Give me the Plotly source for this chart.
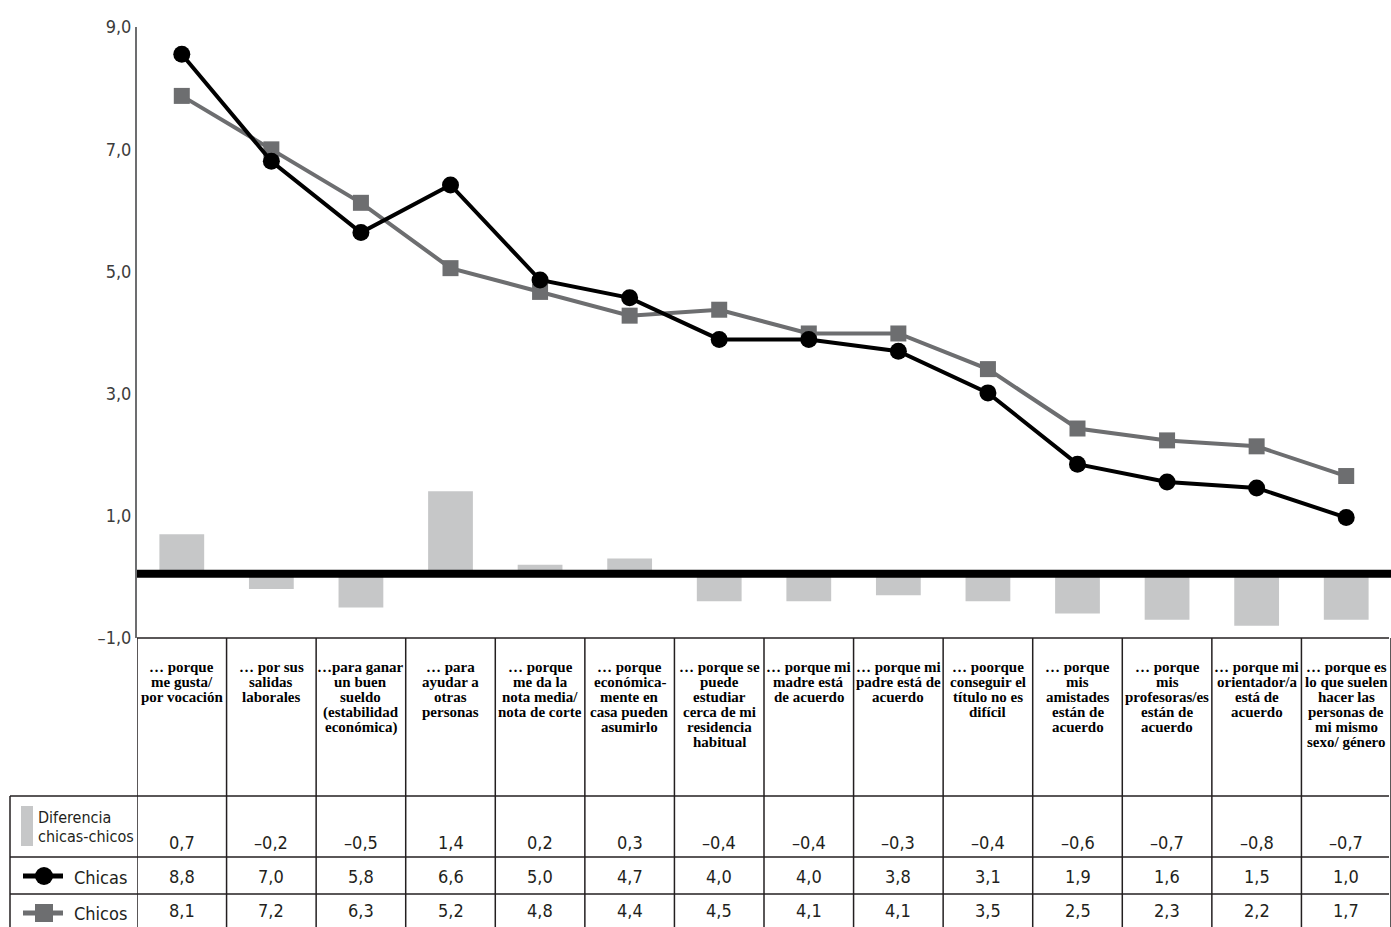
import plotly.graph_objects as go

categories = [
    "… porque\nme gusta/\npor vocación",
    "… por sus\nsalidas\nlaborales",
    "…para ganar\nun buen\nsueldo\n(estabilidad\neconómica)",
    "… para\nayudar a\notras\npersonas",
    "… porque\nme da la\nnota media/\nnota de corte",
    "… porque\neconómica-\nmente en\ncasa pueden\nasumirlo",
    "… porque se\npuede\nestudiar\ncerca de mi\nresidencia\nhabitual",
    "… porque mi\nmadre está\nde acuerdo",
    "… porque mi\npadre está de\nacuerdo",
    "… poorque\nconseguir el\ntítulo no es\ndifícil",
    "… porque\nmis\namistades\nestán de\nacuerdo",
    "… porque\nmis\nprofesoras/es\nestán de\nacuerdo",
    "… porque mi\norientador/a\nestá de\nacuerdo",
    "… porque es\nlo que suelen\nhacer las\npersonas de\nmi mismo\nsexo/ género",
]
chicas = [8.8, 7.0, 5.8, 6.6, 5.0, 4.7, 4.0, 4.0, 3.8, 3.1, 1.9, 1.6, 1.5, 1.0]
chicos = [8.1, 7.2, 6.3, 5.2, 4.8, 4.4, 4.5, 4.1, 4.1, 3.5, 2.5, 2.3, 2.2, 1.7]
diferencia = [0.7, -0.2, -0.5, 1.4, 0.2, 0.3, -0.4, -0.4, -0.3, -0.4, -0.6, -0.7, -0.8, -0.7]
y_ticks = [-1, 1, 3, 5, 7, 9]

W, H = 1391, 927
L, R, T, B = 137, 0, 27, 289
PW, PH = W - L - R, H - T - B

def px(x):
    return (x - L) / PW

def py(y):
    return (H - B - y) / PH

def fmt(v):
    s = f"{abs(v):.1f}".replace(".", ",")
    return ("–" if v < 0 else "") + s

BLACK = "#231f20"
GRAY = "#6d6e70"
LIGHT = "#c6c7c8"
SANS = "DejaVu Sans Condensed, Liberation Sans Narrow, Roboto, sans-serif"
SERIF = "Liberation Serif, Times New Roman, serif"

fig = go.Figure()
fig.add_trace(go.Bar(x=categories, y=diferencia, width=0.5, marker_color=LIGHT,
                     marker_line_width=0, name="Diferencia chicas-chicos"))
# the lines in the original are drawn on a slightly flatter scale than the axis
fig.add_trace(go.Scatter(x=categories, y=chicos, mode="lines+markers", name="Chicos",
                         yaxis="y2", line=dict(color=GRAY, width=4),
                         marker=dict(symbol="square", size=16, color=GRAY)))
fig.add_trace(go.Scatter(x=categories, y=chicas, mode="lines+markers", name="Chicas",
                         yaxis="y2", line=dict(color="black", width=4),
                         marker=dict(symbol="circle", size=17, color="black")))

shapes = []
ann = []
line_style = dict(color=BLACK, width=1.5)

# thick zero line
shapes.append(dict(type="line", xref="paper", yref="y", x0=0, x1=1, y0=0.05, y1=0.05,
                   line=dict(color="black", width=8)))

# table grid
row_lines = [638, 796, 857, 894]
for i, y in enumerate(row_lines):
    x0 = px(137) if i == 0 else px(10)
    shapes.append(dict(type="line", xref="paper", yref="paper", x0=x0, x1=px(1389),
                       y0=py(y), y1=py(y), line=line_style))
for i in range(len(categories) + 1):
    shapes.append(dict(type="line", xref="x", yref="paper", x0=i - 0.5, x1=i - 0.5,
                       y0=py(638), y1=py(H + 5), line=line_style))
shapes.append(dict(type="line", xref="paper", yref="paper", x0=px(10), x1=px(10),
                   y0=py(796), y1=py(H + 5), line=line_style))

# category labels, one line at a time
for i, c in enumerate(categories):
    for j, part in enumerate(c.split("\n")):
        ann.append(dict(x=i, y=py(667 + 15 * j), xref="x", yref="paper", text=part,
                        showarrow=False, xanchor="center", yanchor="middle",
                        font=dict(family=SERIF, size=15, color="black", weight="bold")))

# table values
for yrow, vals in [(842, diferencia), (876, chicas), (911, chicos)]:
    for i, v in enumerate(vals):
        ann.append(dict(x=i, y=py(yrow), xref="x", yref="paper", text=fmt(v),
                        showarrow=False, xanchor="center", yanchor="middle",
                        font=dict(family=SANS, size=18, color=BLACK)))

# legend column
shapes.append(dict(type="rect", xref="paper", yref="paper", x0=px(21), x1=px(33),
                   y0=py(846), y1=py(806), fillcolor=LIGHT, line_width=0))
ann.append(dict(x=px(36), y=py(817), xref="paper", yref="paper", text="Diferencia",
                showarrow=False, xanchor="left", yanchor="middle",
                font=dict(family=SANS, size=16, color=BLACK)))
ann.append(dict(x=px(36), y=py(836), xref="paper", yref="paper", text="chicas-chicos",
                showarrow=False, xanchor="left", yanchor="middle",
                font=dict(family=SANS, size=16, color=BLACK)))

shapes.append(dict(type="line", xref="paper", yref="paper", x0=px(23), x1=px(63),
                   y0=py(876), y1=py(876), line=dict(color="black", width=5)))
shapes.append(dict(type="circle", xref="paper", yref="paper", x0=px(35), x1=px(53),
                   y0=py(885), y1=py(867), fillcolor="black", line_width=0))
shapes.append(dict(type="line", xref="paper", yref="paper", x0=px(23), x1=px(63),
                   y0=py(913), y1=py(913), line=dict(color=GRAY, width=5)))
shapes.append(dict(type="rect", xref="paper", yref="paper", x0=px(35), x1=px(53),
                   y0=py(922), y1=py(904), fillcolor=GRAY, line_width=0))
ann.append(dict(x=px(72), y=py(877), xref="paper", yref="paper", text="Chicas",
                showarrow=False, xanchor="left", yanchor="middle",
                font=dict(family=SANS, size=18, color=BLACK)))
ann.append(dict(x=px(72), y=py(913), xref="paper", yref="paper", text="Chicos",
                showarrow=False, xanchor="left", yanchor="middle",
                font=dict(family=SANS, size=18, color=BLACK)))

fig.update_layout(
    width=W, height=H,
    margin=dict(l=L, r=R, t=T, b=B),
    plot_bgcolor="white", paper_bgcolor="white",
    showlegend=False,
    shapes=shapes, annotations=ann,
    xaxis=dict(range=[-0.5, len(categories) - 0.5], showticklabels=False, showgrid=False,
               zeroline=False, showline=False, ticks=""),
    yaxis=dict(range=[-1, 9], tickvals=y_ticks, ticktext=[fmt(v) for v in y_ticks],
               showgrid=False, zeroline=False, showline=True, linecolor=GRAY, linewidth=2,
               ticks="", tickfont=dict(family=SANS, size=18, color="#3c3c3c")),
    yaxis2=dict(range=[-1.027, 9.26], overlaying="y", visible=False),
)

fig.write_html("out.html", config={"displayModeBar": False},
               post_script="document.body.style.margin='0';document.body.style.overflow='hidden';")
